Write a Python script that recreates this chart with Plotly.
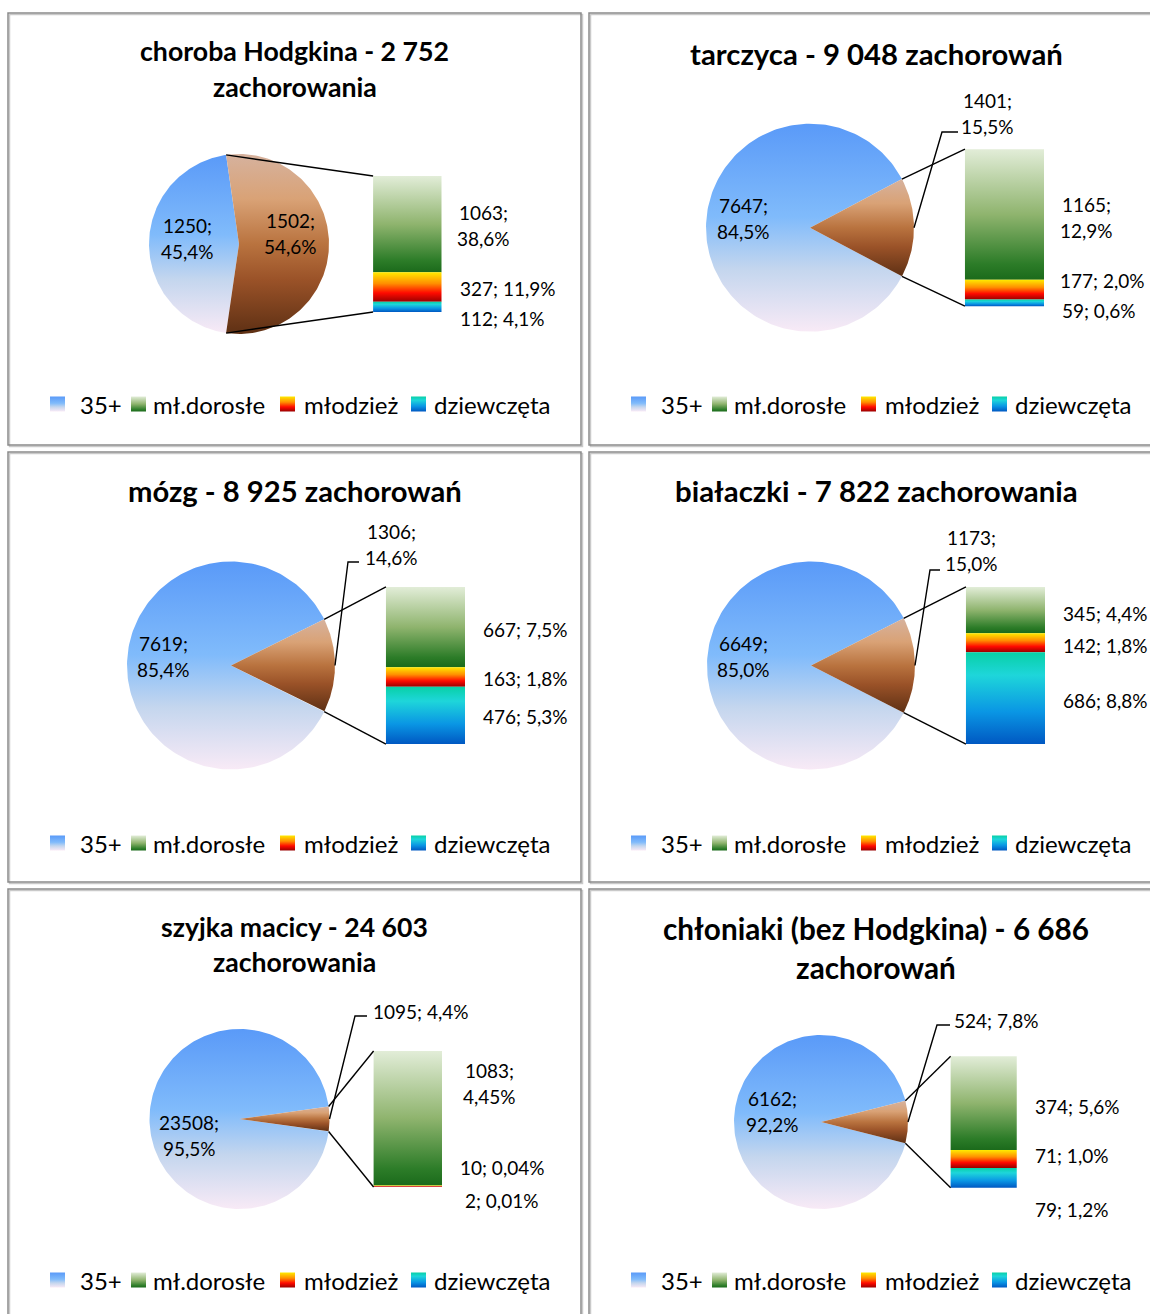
import numpy as np
import plotly.graph_objects as go

W, H = 1150, 1314

# ---- dane ----
titles = [
    ["choroba Hodgkina - 2 752", "zachorowania"],
    ["tarczyca - 9 048 zachorowań"],
    ["mózg - 8 925 zachorowań"],
    ["białaczki - 7 822 zachorowania"],
    ["szyjka macicy - 24 603", "zachorowania"],
    ["chłoniaki (bez Hodgkina) - 6 686", "zachorowań"],
]
legend_names = ["35+", "mł.dorosłe", "młodzież", "dziewczęta"]

age_35 = [1250, 7647, 7619, 6649, 23508, 6162]
age_young = [1502, 1401, 1306, 1173, 1095, 524]
ml_dorosle = [1063, 1165, 667, 345, 1083, 374]
mlodziez = [327, 177, 163, 142, 10, 71]
dziewczeta = [112, 59, 476, 686, 2, 79]

pct_35 = ["45,4%", "84,5%", "85,4%", "85,0%", "95,5%", "92,2%"]
pct_young = ["54,6%", "15,5%", "14,6%", "15,0%", "4,4%", "7,8%"]
pct_ml_dorosle = ["38,6%", "12,9%", "7,5%", "4,4%", "4,45%", "5,6%"]
pct_mlodziez = ["11,9%", "2,0%", "1,8%", "1,8%", "0,04%", "1,0%"]
pct_dziewczeta = ["4,1%", "0,6%", "5,3%", "8,8%", "0,01%", "1,2%"]

# ---- gradienty (0 = dół, 1 = góra) ----
SCALE_35 = [[0, "#f8eaf6"], [0.3, "#c4d6ee"], [0.55, "#80bbfb"], [1, "#5a9af8"]]
SCALE_YOUNG = [[0, "#5e3014"], [0.3, "#9a5228"], [0.5, "#b9733f"], [0.75, "#d9a276"], [1, "#d6b29e"]]
SCALE_GREEN = [[0, "#1b6a1b"], [0.12, "#2c7c28"], [0.5, "#8fb46e"], [1, "#e2edd8"]]
SCALE_ORANGE = [[0, "#9a0000"], [0.3, "#ff0a00"], [0.62, "#ff8f00"], [1, "#ffea00"]]
SCALE_BLUE = [[0, "#0058c2"], [0.35, "#0a96e4"], [0.75, "#1ed6da"], [1, "#08d0a6"]]
SEG_SCALES = [SCALE_GREEN, SCALE_ORANGE, SCALE_BLUE]
LEGEND_SCALES = [SCALE_35, SCALE_GREEN, SCALE_ORANGE, SCALE_BLUE]

FONT = "Lato, 'Open Sans', sans-serif"
LABEL_SIZE = 19

# ---- układ paneli (piksele, y w dół) ----
panels = [
    dict(box=(8, 13, 581, 445), title_y=[51, 87], title_size=26.7, cx=239, cy=244, r=90,
         big=(187, 238.5), young=("in", 290, 233.5), leader=None,
         bars=[("c", 483.5, 225), ("l", 458, 288), ("l", 458, 318)]),
    dict(box=(589, 13, 1163, 445), title_y=[53], title_size=29.3, cx=810, cy=227.7, r=104,
         big=(743, 218), young=("c", 987, 113), leader=((942, 132), (958, 132)),
         bars=[("c", 1086.7, 217.5), ("l", 1058, 280), ("l", 1060, 310)]),
    dict(box=(8, 452, 581, 882), title_y=[490], title_size=29.2, cx=231, cy=665.5, r=104,
         big=(163, 656), young=("c", 391, 544), leader=((348, 562), (359, 562)),
         bars=[("l", 481, 629), ("l", 481, 678), ("l", 481, 716)]),
    dict(box=(589, 452, 1163, 882), title_y=[490], title_size=29.4, cx=811, cy=665.5, r=104,
         big=(743, 656), young=("c", 971, 550.5), leader=((930, 570), (940, 570)),
         bars=[("l", 1061, 613), ("l", 1061, 645), ("l", 1061, 700)]),
    dict(box=(8, 889, 581, 1330), title_y=[927, 962], title_size=26.6, cx=239.5, cy=1119, r=90,
         big=(189, 1135), young=("l", 371, 1011), leader=((355, 1016), (367, 1016)),
         bars=[("c", 489, 1083), ("l", 458, 1167), ("l", 463, 1200)]),
    dict(box=(589, 889, 1163, 1330), title_y=[928, 967], title_size=29.7, cx=821, cy=1122, r=87,
         big=(772, 1111.5), young=("l", 952, 1020), leader=((937, 1025), (950, 1025)),
         bars=[("l", 1033, 1106), ("l", 1033, 1155), ("l", 1033, 1209)]),
]

fig = go.Figure()


def add_poly(xs, ys, scale):
    fig.add_trace(go.Scatter(
        x=list(xs), y=[H - v for v in ys], mode="lines", fill="toself",
        line=dict(width=0), fillgradient=dict(type="vertical", colorscale=scale),
        hoverinfo="skip", showlegend=False))


def add_line(xs, ys):
    fig.add_trace(go.Scatter(
        x=list(xs), y=[H - v for v in ys], mode="lines",
        line=dict(color="black", width=1.4), hoverinfo="skip", showlegend=False))


def add_text(x, y, lines, size=LABEL_SIZE, anchor="center", bold=False, gap=26):
    n = len(lines)
    for i, t in enumerate(lines):
        yy = y + (i - (n - 1) / 2) * gap
        fig.add_annotation(
            x=x, y=H - yy, text=f"<b>{t}</b>" if bold else t, showarrow=False,
            xanchor={"c": "center", "l": "left"}.get(anchor, anchor), yanchor="middle",
            font=dict(family=FONT, size=size, color="black"))


def wedge(cx, cy, r, a0, a1):
    a = np.linspace(a0, a1, 200)
    xs = np.concatenate([[cx], cx + r * np.cos(a), [cx]])
    ys = np.concatenate([[cy], cy - r * np.sin(a), [cy]])
    return xs, ys


for i, p in enumerate(panels):
    x0, y0, x1, y1 = p["box"]
    cx, cy, r = p["cx"], p["cy"], p["r"]

    # ramka panelu (z cieniem)
    fig.add_shape(type="rect", x0=x0 + 1.5, x1=x1 + 1.5, y0=H - y1 - 1.5, y1=H - y0 - 1.5,
                  line=dict(color="#c9c9c9", width=1.5), layer="below")
    fig.add_shape(type="rect", x0=x0, x1=x1, y0=H - y1, y1=H - y0,
                  line=dict(color="#8a8a8a", width=1.5), layer="below")

    # tytuł
    for line, ty in zip(titles[i], p["title_y"]):
        add_text((x0 + x1) / 2, ty, [line], size=p["title_size"], bold=True)

    # koło
    total = age_35[i] + age_young[i]
    half = np.pi * age_young[i] / total
    add_poly(*wedge(cx, cy, r, half, 2 * np.pi - half), SCALE_35)
    add_poly(*wedge(cx, cy, r, -half, half), SCALE_YOUNG)

    # słupek
    bl, bw, bh = cx + 1.49 * r, 0.76 * r, 1.51 * r
    btop = cy - bh / 2
    segs = [ml_dorosle[i], mlodziez[i], dziewczeta[i]]
    seg_total = sum(segs)
    y_cur = btop
    for v, sc in zip(segs, SEG_SCALES):
        h = bh * v / seg_total
        add_poly([bl, bl + bw, bl + bw, bl, bl], [y_cur, y_cur, y_cur + h, y_cur + h, y_cur], sc)
        y_cur += h

    # linie łączące
    add_line([cx + r * np.cos(half), bl], [cy - r * np.sin(half), btop])
    add_line([cx + r * np.cos(half), bl], [cy + r * np.sin(half), btop + bh])

    # etykiety koła
    add_text(p["big"][0], p["big"][1], [f"{age_35[i]};", pct_35[i]])
    mode, yx, yy = p["young"]
    if mode == "l":
        add_text(yx, yy, [f"{age_young[i]}; {pct_young[i]}"], anchor="l")
    else:
        add_text(yx, yy, [f"{age_young[i]};", pct_young[i]])
    if p["leader"]:
        (ex, ey), (tx, ty) = p["leader"]
        add_line([cx + r, ex, tx], [cy, ey, ty])

    # etykiety słupka
    pcts = [pct_ml_dorosle[i], pct_mlodziez[i], pct_dziewczeta[i]]
    for (mode, lx, ly), v, pc in zip(p["bars"], segs, pcts):
        if mode == "c":
            add_text(lx, ly, [f"{v};", pc])
        else:
            add_text(lx, ly, [f"{v}; {pc}"], anchor="l")

    # legenda
    ly = y0 + 391
    for k, (name, sc) in enumerate(zip(legend_names, LEGEND_SCALES)):
        sx = x0 + [42, 123, 272, 403][k]
        add_poly([sx, sx + 15, sx + 15, sx, sx], [ly - 7.5, ly - 7.5, ly + 7.5, ly + 7.5, ly - 7.5], sc)
        add_text(x0 + [70, 143, 294, 424][k], ly, [name], size=24, anchor="l")

fig.update_layout(
    width=W, height=H, margin=dict(l=0, r=0, t=0, b=0),
    paper_bgcolor="white", plot_bgcolor="white", showlegend=False,
    xaxis=dict(range=[0, W], visible=False, fixedrange=True),
    yaxis=dict(range=[0, H], visible=False, fixedrange=True),
)

fig.write_html(
    "out.html",
    config={"displayModeBar": False},
    post_script="document.body.style.margin='0';document.body.style.overflow='hidden';",
)
